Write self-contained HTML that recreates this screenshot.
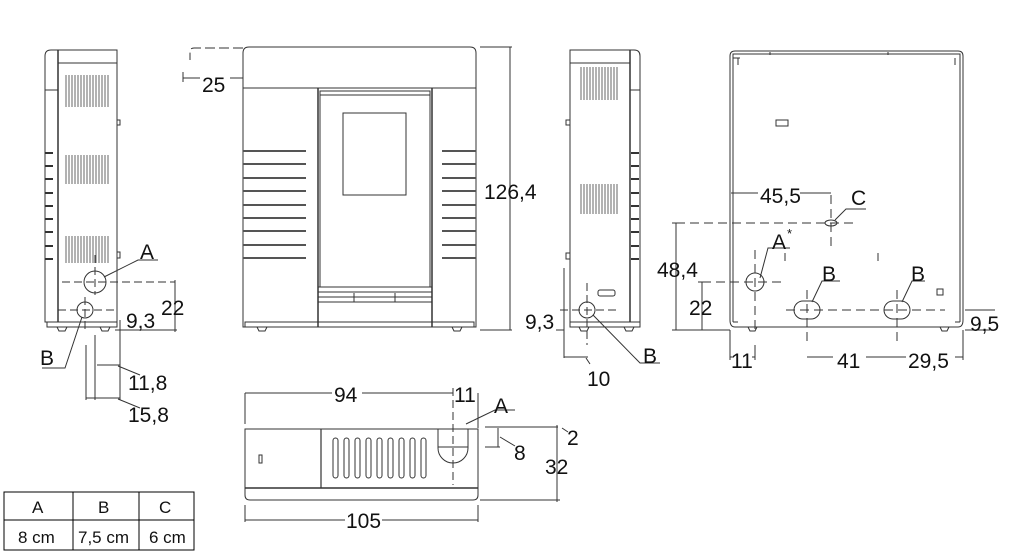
<!DOCTYPE html>
<html><head><meta charset="utf-8"><style>
html,body{margin:0;padding:0;background:#fff}
svg{display:block}
text{font-family:"Liberation Sans",sans-serif;font-size:21px;fill:#111}
</style></head><body>
<svg width="1024" height="553" viewBox="0 0 1024 553" xmlns="http://www.w3.org/2000/svg">
<g fill="none" stroke="#333" stroke-width="1">
<!-- LEFT SIDE VIEW -->
<path d="M45,322 V56 Q45,50 51,50 H117 V322 Z"/>
<line x1="58" y1="50" x2="58" y2="322" stroke-width="1.5"/>
<line x1="58" y1="63" x2="117" y2="63"/>
<line x1="45" y1="90" x2="58" y2="90"/>
<rect x="47" y="322" width="70" height="5"/>
<path d="M57,327 l2,4 h6 l2,-4 M100,327 l2,4 h6 l2,-4"/>
<g stroke="#666">
<path d="M66,75 v32 M69,75 v32 M72,75 v32 M75,75 v32 M78,75 v32 M81,75 v32 M84,75 v32 M87,75 v32 M90,75 v32 M93,75 v32 M96,75 v32 M99,75 v32 M102,75 v32 M105,75 v32 M108,75 v32"/>
<path d="M66,155 v29 M69,155 v29 M72,155 v29 M75,155 v29 M78,155 v29 M81,155 v29 M84,155 v29 M87,155 v29 M90,155 v29 M93,155 v29 M96,155 v29 M99,155 v29 M102,155 v29 M105,155 v29 M108,155 v29"/>
<path d="M66,236 v27 M69,236 v27 M72,236 v27 M75,236 v27 M78,236 v27 M81,236 v27 M84,236 v27 M87,236 v27 M90,236 v27 M93,236 v27 M96,236 v27 M99,236 v27 M102,236 v27 M105,236 v27 M108,236 v27"/>
</g>
<path d="M45,153h8M45,166h8M45,179h8M45,193h8M45,206h8M45,219h8M45,232h8M45,246h8M45,259h8" stroke-width="2"/>
<rect x="117" y="120" width="3" height="5"/><rect x="117" y="252" width="3" height="6"/>
<circle cx="95" cy="282" r="11"/>
<circle cx="85" cy="310" r="8"/>
<path d="M62,282 H175 M58,310 H117 M95,255 V295 M85,297 V330" stroke-dasharray="8,4"/>
<path d="M115,330 H177 M175,280 V332"/>
<path d="M104,277 L138,260 H158 M82,317 L65,368 H42"/>
<path d="M95,335 V400 M86,345 V400 M120,320 V400 M97,365 H120 M86,398 H120 M118,366 L140,375 M118,399 L140,408"/>
<!-- FRONT VIEW -->
<path d="M243,327 V53 Q243,47 249,47 H470 Q476,47 476,53 V327 Z"/>
<line x1="243" y1="88" x2="476" y2="88"/>
<path d="M318,88 V327 M432,88 V327" stroke-width="1.5"/>
<rect x="320" y="91" width="110" height="196"/>
<line x1="320" y1="95" x2="430" y2="95"/>
<rect x="343" y="113" width="63" height="82"/>
<path d="M318,287 H432 M318,292 H432 M318,297 H432 M318,302 H432 M354,293 V302 M395,293 V302"/>
<rect x="245" y="322" width="229" height="5"/>
<path d="M257,327 l2,4 h6 l2,-4 M452,327 l2,4 h6 l2,-4"/>
<g stroke-width="2" stroke="#555">
<path d="M243,151h63M243,164h63M243,178h63M243,191h63M243,205h63M243,218h63M243,231h63M243,245h63M243,258h63"/>
<path d="M442,151h34M442,164h34M442,178h34M442,191h34M442,205h34M442,218h34M442,231h34M442,245h34M442,258h34"/>
</g>
<path d="M243,48 H194 Q190,48 190,52 V60" stroke-dasharray="10,4"/>
<path d="M183,72 V82 M183,78 H200 M230,78 H243"/>
<path d="M480,47 H512 M480,330 H512 M510,47 V330"/>
<!-- RIGHT SIDE VIEW -->
<path d="M570,322 V50 H634 Q640,50 640,56 V322 Z"/>
<line x1="630" y1="50" x2="630" y2="322" stroke-width="1.5"/>
<line x1="570" y1="63" x2="630" y2="63"/>
<line x1="630" y1="90" x2="640" y2="90"/>
<rect x="570" y="322" width="70" height="5"/>
<path d="M579,327 l2,4 h6 l2,-4 M624,327 l2,4 h6 l2,-4"/>
<g stroke="#666">
<path d="M581,67v33M584,67v33M587,67v33M590,67v33M593,67v33M596,67v33M599,67v33M602,67v33M605,67v33M608,67v33M611,67v33M614,67v33M617,67v33"/>
<path d="M581,184v30M584,184v30M587,184v30M590,184v30M593,184v30M596,184v30M599,184v30M602,184v30M605,184v30M608,184v30M611,184v30M614,184v30M617,184v30"/>
</g>
<path d="M631,153h8M631,166h8M631,179h8M631,193h8M631,206h8M631,219h8M631,232h8M631,246h8M631,259h8" stroke-width="2"/>
<rect x="566" y="120" width="4" height="5"/><rect x="566" y="253" width="4" height="6"/>
<rect x="598" y="290" width="17" height="6" rx="2"/>
<circle cx="587" cy="310" r="8"/>
<path d="M560,310 H617 M587,283 V345" stroke-dasharray="8,4"/>
<path d="M564,268 V358 M556,330 H564 M564,357 H588 M586,358 L590,364"/>
<path d="M593,315 L640,363 H660"/>
<!-- BACK VIEW -->
<path d="M730,320 V56 Q730,51 735,51 H958 Q963,51 963,56 V320 Q963,327 958,327 H735 Q730,327 730,320 Z"/>
<path d="M733,322 V58 H740 M733,58 V54 H960 V58 M960,58 V322 M733,322 H738 M960,322 H955"/>
<path d="M738,58 V65 M955,58 V65 M770,52 V55 M888,52 V55"/>
<rect x="776" y="120" width="12" height="6"/><rect x="937" y="289" width="6" height="6"/>
<path d="M748,327 l2,4 h5 l2,-4 M940,327 l2,4 h5 l2,-4"/>
<ellipse cx="831" cy="223" rx="6" ry="3"/>
<circle cx="755" cy="282" r="9"/>
<rect x="794" y="301" width="26" height="18" rx="9"/>
<rect x="884" y="301" width="26" height="18" rx="9"/>
<path d="M676,223 H857 M831,195 V248 M702,282 H785 M755,250 V330 M786,310 H945 M807,290 V345 M897,290 V345" stroke-dasharray="9,5"/>
<path d="M785,253 v8 M878,253 v8"/>
<path d="M730,185 V195 M731,193 H758 M800,193 H831"/>
<path d="M676,223 V330 M702,282 V330 M672,223 H682 M672,330 H730 M698,282 H706"/>
<path d="M835,220 L846,209 H866 M760,278 L768,248 H790 M812,302 L822,281 H840 M902,302 L912,281 H925"/>
<path d="M730,330 V360 M755,345 V360 M730,357 H734 M752,357 H755 M807,357 H833 M866,357 H897 M897,357 H906 M955,357 H963 M963,330 V360 M965,330 H990 M965,310 H995"/>
<!-- TOP VIEW -->
<path d="M245,429 H478 V495 Q478,500 473,500 H250 Q245,500 245,495 Z"/>
<line x1="245" y1="488" x2="478" y2="488" stroke-width="1.5"/>
<line x1="321" y1="429" x2="321" y2="488" stroke-width="1.2"/>
<rect x="259" y="455" width="3" height="8"/>
<g><rect x="333" y="438" width="5" height="40" rx="2.5"/><rect x="344" y="438" width="5" height="40" rx="2.5"/><rect x="355" y="438" width="5" height="40" rx="2.5"/><rect x="366" y="438" width="5" height="40" rx="2.5"/><rect x="377" y="438" width="5" height="40" rx="2.5"/><rect x="388" y="438" width="5" height="40" rx="2.5"/><rect x="399" y="438" width="5" height="40" rx="2.5"/><rect x="410" y="438" width="5" height="40" rx="2.5"/><rect x="421" y="438" width="5" height="40" rx="2.5"/></g>
<path d="M438,429 V448 A15,15 0 0 0 468,448 V429"/>
<line x1="438" y1="447" x2="468" y2="447"/>
<path d="M453,388 V485" stroke-dasharray="8,4"/>
<path d="M245,393 V424 M245,393 H332 M362,393 H453 M478,393 V428 M245,505 V522 M478,505 V522 M245,520 H345 M382,520 H478"/>
<path d="M466,424 L495,410 H515 M485,427 H558 M485,447 H500 M498,428 V447 M500,437 L515,446 M480,500 H560 M557,425 V502 M562,428 L568,432"/>
<!-- TABLE -->
<rect x="4" y="492" width="190" height="58" stroke="#000"/>
<path d="M4,520 H194 M73,492 V550 M139,492 V550" stroke="#000"/>
</g>
<g>
<text x="140" y="259">A</text>
<text x="40" y="365">B</text>
<text x="126" y="328">9,3</text>
<text x="161" y="315">22</text>
<text x="128" y="390">11,8</text>
<text x="128" y="422">15,8</text>
<text x="202" y="92">25</text>
<text x="484" y="199">126,4</text>
<text x="525" y="329">9,3</text>
<text x="587" y="386">10</text>
<text x="643" y="363">B</text>
<text x="760" y="203">45,5</text>
<text x="851" y="205">C</text>
<text x="772" y="249">A</text><text x="787" y="238" style="font-size:13px">*</text>
<text x="822" y="281">B</text>
<text x="911" y="281">B</text>
<text x="657" y="277">48,4</text>
<text x="689" y="315">22</text>
<text x="731" y="368">11</text>
<text x="837" y="368">41</text>
<text x="908" y="368">29,5</text>
<text x="970" y="331">9,5</text>
<text x="334" y="402">94</text>
<text x="454" y="402">11</text>
<text x="494" y="413">A</text>
<text x="567" y="445">2</text>
<text x="514" y="460">8</text>
<text x="545" y="474">32</text>
<text x="346" y="528">105</text>
<text x="32" y="513" style="font-size:17px">A</text>
<text x="98" y="513" style="font-size:17px">B</text>
<text x="159" y="513" style="font-size:17px">C</text>
<text x="18" y="543" style="font-size:17px">8 cm</text>
<text x="78" y="543" style="font-size:17px">7,5 cm</text>
<text x="149" y="543" style="font-size:17px">6 cm</text>
</g>
</svg>
</body></html>
